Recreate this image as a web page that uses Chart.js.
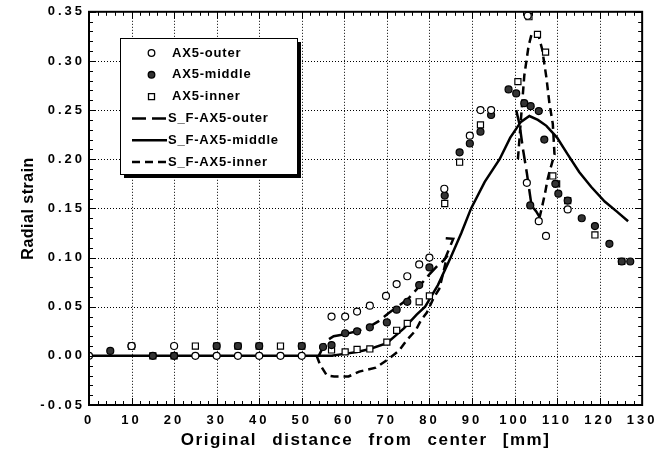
<!DOCTYPE html>
<html>
<head>
<meta charset="utf-8">
<title>Radial strain</title>
<script src="https://cdn.jsdelivr.net/npm/chart.js"></script>
<style>
  body { margin: 0; background: #fff; }
  canvas { display: block; }
</style>
</head>
<body>
<canvas id="myChart" width="661" height="465"></canvas>
<script>
// measured points (mm, strain)
const outerX = [0, 10, 20, 25, 30, 35, 40, 45, 50, 57, 60.2, 63, 66, 69.8, 72.3, 74.8, 77.6, 80, 83.5, 89.5, 92, 94.5, 103.1, 102.9, 105.7, 107.4, 112.5];
const outerY = [0, 0.01, 0.01, 0, 0, 0, 0, 0, 0, 0.04, 0.04, 0.045, 0.051, 0.061, 0.073, 0.081, 0.093, 0.1, 0.17, 0.224, 0.25, 0.25, 0.346, 0.176, 0.137, 0.122, 0.149];

const middleX = [5, 10, 15, 20, 30, 35, 40, 50, 55, 57, 60.2, 63, 66, 70, 72.3, 74.8, 77.6, 80, 83.6, 87.1, 89.5, 92, 94.5, 98.6, 100.4, 102.3, 103.7, 103.8, 105.7, 107, 109.6, 110.3, 112.5, 115.8, 118.9, 122.3, 125.2, 127.2];
const middleY = [0.005, 0.01, 0, 0, 0.01, 0.01, 0.01, 0.01, 0.009, 0.011, 0.023, 0.025, 0.029, 0.034, 0.047, 0.055, 0.072, 0.09, 0.163, 0.207, 0.216, 0.228, 0.245, 0.271, 0.267, 0.257, 0.153, 0.254, 0.249, 0.22, 0.175, 0.165, 0.158, 0.14, 0.132, 0.114, 0.096, 0.096];

const innerX = [10, 15, 20, 25, 30, 35, 40, 45, 50, 57, 60.2, 63, 66, 70, 72.3, 74.8, 77.6, 80, 83.6, 87.1, 92, 100.8, 103.4, 105.4, 107.3, 109, 109.9, 112.5, 118.9, 125.2];
const innerY = [0.01, 0, 0, 0.01, 0.01, 0.01, 0.01, 0.01, 0.01, 0.006, 0.004, 0.0065, 0.007, 0.014, 0.026, 0.033, 0.055, 0.061, 0.155, 0.197, 0.235, 0.279, 0.345, 0.327, 0.309, 0.183, 0.175, 0.158, 0.123, 0.096];

// simulation curves (null = break in the curve)
const sfOuterX = [54, 55.7, 57.5, 60, 63, 66, 68, 70.3, 72.5, 75, 77.5, 80, 82, 83.6, 85.6, 83.2, null, 100.4, 101.2, 102, 102.9, 103.5, 104, 105.1, 105.9];
const sfOuterY = [0, 0.015, 0.02, 0.022, 0.025, 0.03, 0.035, 0.043, 0.05, 0.058, 0.07, 0.083, 0.092, 0.098, 0.119, 0.12, null, 0.25, 0.235, 0.21, 0.186, 0.168, 0.153, 0.147, 0.141];

const sfMiddleX = [0, 57, 60, 63, 66, 70, 74, 77, 79, 82, 85, 87.5, 89.8, 93, 96.5, 99, 101.5, 103.5, 105.5, 107.5, 110, 112.5, 115.2, 118, 121.2, 124, 126.7];
const sfMiddleY = [0, 0, 0.002, 0.004, 0.007, 0.013, 0.028, 0.042, 0.05, 0.072, 0.1, 0.125, 0.15, 0.177, 0.2, 0.222, 0.238, 0.244, 0.24, 0.234, 0.222, 0.205, 0.187, 0.172, 0.157, 0.147, 0.137];

const sfInnerX = [53.5, 54.3, 55.9, 57.6, 61, 63.5, 67.4, 69.8, 72.8, 74.7, 76.8, 78, 79.4, 81, 82.3, 83, 84.2, null, 100.8, 101.5, 102.3, 103.3, 104, 105.5, 106.5, 107.5, 108.2, 109, 109.4, 108.4, 107.8, 107.2, 106.5, 105.9];
const sfInnerY = [0, -0.009, -0.02, -0.021, -0.021, -0.016, -0.012, -0.005, 0.005, 0.016, 0.026, 0.036, 0.044, 0.059, 0.068, 0.08, 0.102, null, 0.2, 0.24, 0.285, 0.315, 0.327, 0.328, 0.312, 0.283, 0.257, 0.236, 0.205, 0.19, 0.18, 0.166, 0.152, 0.141];

const labels = ['AX5-outer', 'AX5-middle', 'AX5-inner', 'S_F-AX5-outer', 'S_F-AX5-middle', 'S_F-AX5-inner'];

function pts(xs, ys) {
  return xs.map((x, i) => ({x: x, y: ys[i]}));
}

const FONT = '"Liberation Sans", Arial, Helvetica, sans-serif';

// wrap a scale's label/title drawing so the text gets letter spacing
function spaced(s, tickSp, titleSp, wordSp) {
  if (s._spaced) return;
  s._spaced = true;
  const dl = s.drawLabels.bind(s);
  const dt = s.drawTitle.bind(s);
  s.drawLabels = function (ca) {
    s.ctx.letterSpacing = tickSp; dl(ca); s.ctx.letterSpacing = '0px';
  };
  s.drawTitle = function () {
    s.ctx.letterSpacing = titleSp; s.ctx.wordSpacing = wordSp; dt();
    s.ctx.letterSpacing = '0px'; s.ctx.wordSpacing = '0px';
  };
}

const gridFrame = {
  id: 'gridFrame',
  beforeDatasetsDraw(chart) {
    const {ctx, chartArea: a, scales: {x, y}} = chart;
    ctx.save();
    ctx.strokeStyle = '#000';
    ctx.lineWidth = 1;
    ctx.setLineDash([1, 2]);
    ctx.beginPath();
    for (let v = 10; v < 130; v += 10) {
      const px = Math.round(x.getPixelForValue(v)) + 0.5;
      ctx.moveTo(px, a.top); ctx.lineTo(px, a.bottom);
    }
    for (let i = 0; i < 35; i += 5) {
      const py = Math.round(y.getPixelForValue(i / 100)) + 0.5;
      ctx.moveTo(a.left, py); ctx.lineTo(a.right, py);
    }
    ctx.stroke();
    ctx.restore();
  },
  afterDatasetsDraw(chart) {
    const {ctx, chartArea: a, scales: {x, y}} = chart;
    ctx.save();
    ctx.strokeStyle = '#000';
    ctx.lineWidth = 1;
    ctx.beginPath();
    for (let v = 0; v <= 130; v += 2) {
      const px = Math.round(x.getPixelForValue(v)) + 0.5;
      const len = v % 10 === 0 ? 7 : 4;
      ctx.moveTo(px, a.bottom); ctx.lineTo(px, a.bottom - len);
      ctx.moveTo(px, a.top); ctx.lineTo(px, a.top + len);
    }
    for (let i = -5; i <= 35; i++) {
      const py = Math.round(y.getPixelForValue(i / 100)) + 0.5;
      const len = (i + 5) % 5 === 0 ? 7 : 4;
      ctx.moveTo(a.left, py); ctx.lineTo(a.left + len, py);
      ctx.moveTo(a.right, py); ctx.lineTo(a.right - len, py);
    }
    ctx.stroke();
    ctx.lineWidth = 2;
    ctx.strokeRect(a.left, a.top, a.right - a.left, a.bottom - a.top);
    ctx.restore();
  }
};

const boxLegend = {
  id: 'boxLegend',
  afterDraw(chart) {
    const ctx = chart.ctx;
    const ds = chart.data.datasets;
    const bx = 120, by = 38, bw = 177, bh = 136;
    ctx.save();
    ctx.fillStyle = '#000';
    ctx.fillRect(bx + 4, by + 4, bw, bh);
    ctx.fillStyle = '#fff';
    ctx.fillRect(bx, by, bw, bh);
    ctx.strokeStyle = '#000';
    ctx.lineWidth = 1;
    ctx.strokeRect(bx + 0.5, by + 0.5, bw, bh);
    ctx.font = 'bold 13px ' + FONT;
    ctx.letterSpacing = '0.8px';
    ctx.textBaseline = 'middle';
    ds.forEach((d, i) => {
      const yy = 53 + i * 21.8;
      ctx.strokeStyle = '#000';
      ctx.fillStyle = '#000';
      if (d.showLine) {
        ctx.lineWidth = d.borderWidth;
        ctx.setLineDash(d.borderDash || []);
        ctx.beginPath();
        ctx.moveTo(132, yy);
        ctx.lineTo(167, yy);
        ctx.stroke();
        ctx.setLineDash([]);
        ctx.fillText(d.label, 168, yy);
      } else {
        ctx.lineWidth = 1.3;
        ctx.beginPath();
        if (d.pointStyle === 'rect') {
          ctx.rect(148.5, yy - 3, 6, 6);
        } else {
          ctx.arc(151.5, yy, 3.3, 0, Math.PI * 2);
        }
        ctx.fillStyle = d.pointBackgroundColor;
        ctx.fill();
        ctx.stroke();
        ctx.fillStyle = '#000';
        ctx.fillText(d.label, 172, yy);
      }
    });
    ctx.restore();
  }
};

new Chart(document.getElementById('myChart'), {
  type: 'scatter',
  data: {
    datasets: [{
      label: labels[0],
      data: pts(outerX, outerY),
      pointStyle: 'circle',
      pointRadius: 3.5,
      pointBorderWidth: 1.2,
      pointBorderColor: '#000',
      pointBackgroundColor: '#fff',
      showLine: false
    }, {
      label: labels[1],
      data: pts(middleX, middleY),
      pointStyle: 'circle',
      pointRadius: 3.5,
      pointBorderWidth: 1.2,
      pointBorderColor: '#000',
      pointBackgroundColor: '#333',
      showLine: false
    }, {
      label: labels[2],
      data: pts(innerX, innerY),
      pointStyle: 'rect',
      pointRadius: 4.3,
      pointBorderWidth: 1.2,
      pointBorderColor: '#000',
      pointBackgroundColor: '#fff',
      showLine: false
    }, {
      label: labels[3],
      data: pts(sfOuterX, sfOuterY),
      showLine: true,
      borderColor: '#000',
      borderWidth: 2.5,
      borderDash: [14, 6],
      pointRadius: 0,
      spanGaps: false,
      tension: 0
    }, {
      label: labels[4],
      data: pts(sfMiddleX, sfMiddleY),
      showLine: true,
      borderColor: '#000',
      borderWidth: 2.5,
      pointRadius: 0,
      spanGaps: false,
      tension: 0
    }, {
      label: labels[5],
      data: pts(sfInnerX, sfInnerY),
      showLine: true,
      borderColor: '#000',
      borderWidth: 2.5,
      borderDash: [8, 5],
      pointRadius: 0,
      spanGaps: false,
      tension: 0
    }]
  },
  options: {
    responsive: false,
    animation: false,
    layout: {padding: {top: 10, right: 18, left: 0, bottom: 0}},
    plugins: {
      legend: {display: false},
      tooltip: {enabled: false}
    },
    scales: {
      x: {
        type: 'linear',
        min: 0,
        max: 130,
        afterFit(s) { s.height = 60; spaced(s, '3px', '1.5px', '9px'); },
        ticks: {
          stepSize: 10,
          padding: 8,
          color: '#000',
          maxRotation: 0,
          font: {family: FONT, size: 13, weight: 'bold'}
        },
        grid: {display: false, drawTicks: false},
        border: {display: false},
        title: {
          display: true,
          text: 'Original distance from center [mm]',
          color: '#000',
          padding: {top: 0, bottom: 14},
          font: {family: FONT, size: 17, weight: 'bold'}
        }
      },
      y: {
        type: 'linear',
        min: -0.05,
        max: 0.35,
        afterFit(s) { s.width = 89; spaced(s, '3px', '0.5px', '0px'); },
        ticks: {
          stepSize: 0.05,
          padding: 4,
          color: '#000',
          font: {family: FONT, size: 13, weight: 'bold'},
          callback: v => Math.abs(v) < 1e-9 ? '0.00' : v.toFixed(2)
        },
        grid: {display: false, drawTicks: false},
        border: {display: false},
        title: {
          display: true,
          text: 'Radial strain',
          color: '#000',
          padding: {top: 19, bottom: 0},
          font: {family: FONT, size: 16, weight: 'bold'}
        }
      }
    }
  },
  plugins: [gridFrame, boxLegend]
});
</script>
</body>
</html>
